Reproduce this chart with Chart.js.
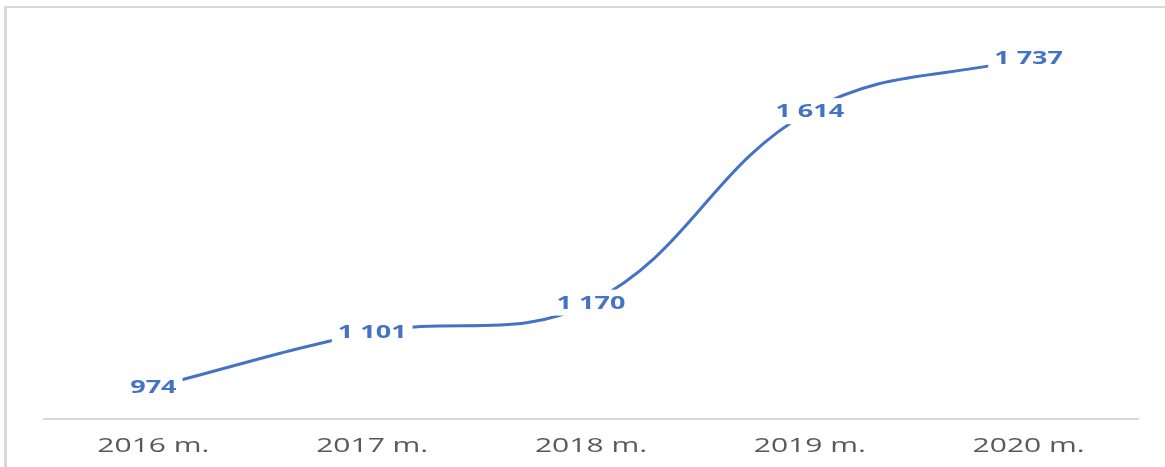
<!DOCTYPE html>
<html>
<head>
<meta charset="utf-8">
<script src="https://cdn.jsdelivr.net/npm/chart.js@4"></script>
<style>
  html, body { margin: 0; padding: 0; background: #fff; }
  canvas { display: block; }
</style>
</head>
<body>
<canvas id="myChart" width="1165" height="467"></canvas>
<script>
const years = ["2016 m.", "2017 m.", "2018 m.", "2019 m.", "2020 m."];
const values = [974, 1101, 1170, 1614, 1737];
const valueLabels = ["974", "1 101", "1 170", "1 614", "1 737"];

const blue = '#4472C4';
const stretch = 1.5; // text in the picture is widened

// frame + hand drawn labels (stretched text)
const decor = {
    id: 'decor',
    beforeDraw(chart) {
        const c = chart.ctx;
        c.save();
        c.fillStyle = '#d9d9d9';
        c.fillRect(4, 6, 3, 467);
        c.fillRect(4, 6, 1161, 2);
        c.restore();
    },
    afterDatasetsDraw(chart) {
        const c = chart.ctx;
        const meta = chart.getDatasetMeta(0);
        c.save();
        c.font = 'bold 18px "Open Sans"';
        c.textBaseline = 'middle';
        c.textAlign = 'center';
        meta.data.forEach((pt, i) => {
            const txt = valueLabels[i];
            const w = c.measureText(txt).width * stretch;
            c.fillStyle = '#fff';
            c.fillRect(pt.x - w / 2 - 6, pt.y - 13, w + 12, 26);
            c.save();
            c.translate(pt.x, pt.y + 1);
            c.scale(stretch, 1);
            c.fillStyle = blue;
            c.fillText(txt, 0, 0);
            c.restore();
        });
        // x tick labels
        const x = chart.scales.x;
        c.font = '20px "Open Sans"';
        c.fillStyle = '#595959';
        years.forEach((lab, i) => {
            c.save();
            c.translate(x.getPixelForTick(i), 446);
            c.scale(stretch, 1);
            c.fillText(lab, 0, 0);
            c.restore();
        });
        c.restore();
    }
};

new Chart(document.getElementById('myChart'), {
    type: 'line',
    data: {
        labels: years,
        datasets: [{
            data: values,
            borderColor: blue,
            borderWidth: 3,
            pointRadius: 0,
            tension: 0.4,
            fill: false
        }]
    },
    options: {
        responsive: false,
        animation: false,
        layout: { padding: { left: 44, right: 27, top: 31, bottom: 0 } },
        plugins: {
            legend: { display: false },
            tooltip: { enabled: false }
        },
        scales: {
            x: {
                offset: true,
                grid: { display: false },
                border: { display: true, color: '#d9d9d9', width: 2 },
                ticks: { display: false },
                afterFit(scale) { scale.height = 48; }
            },
            y: {
                display: false,
                min: 900,
                max: 1800
            }
        }
    },
    plugins: [decor]
});
</script>
</body>
</html>
